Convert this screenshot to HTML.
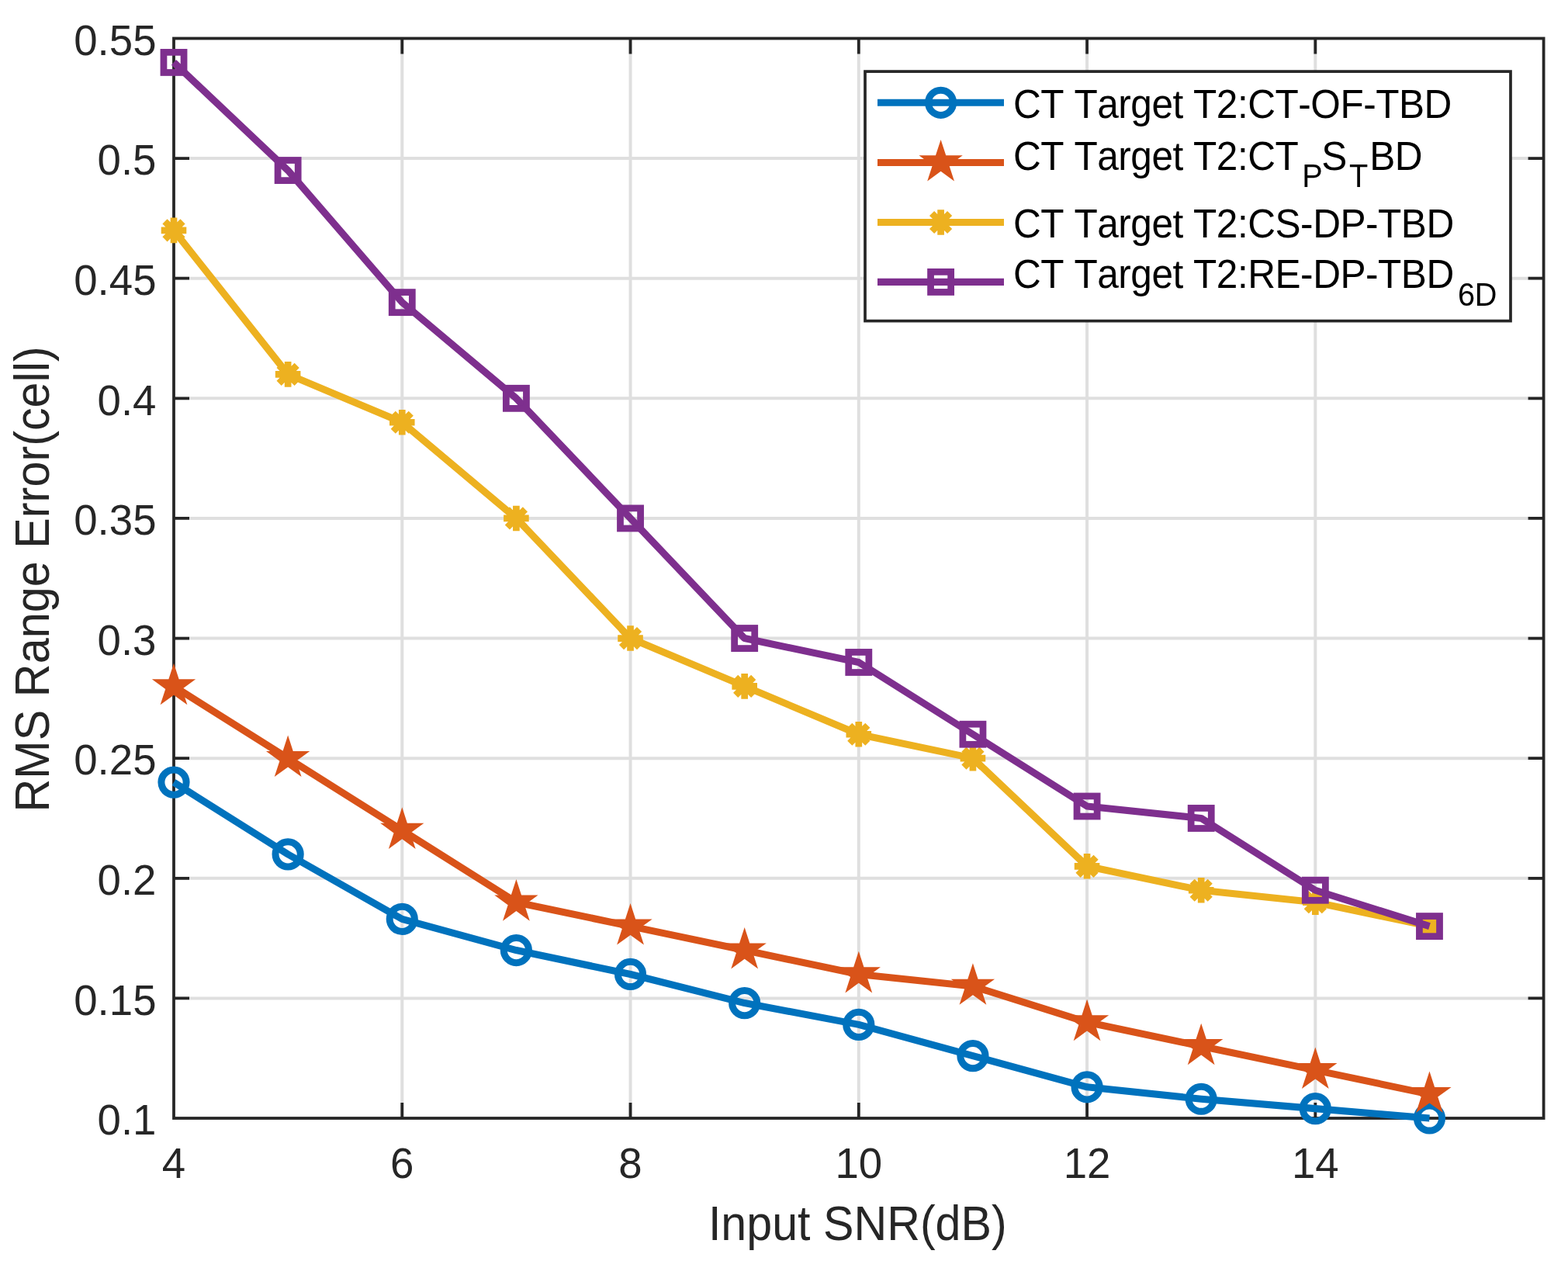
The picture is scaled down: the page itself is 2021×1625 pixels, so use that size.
<!DOCTYPE html>
<html><head><meta charset="utf-8"><title>RMS Range Error</title>
<style>html,body{margin:0;padding:0;background:#fff;overflow:hidden;}svg{display:block;}text{font-kerning:none;}</style></head>
<body>
<svg width="2021" height="1625" viewBox="0 0 2021 1625">
<rect width="2021" height="1625" fill="#ffffff"/>
<path d="M518.27 49.5V1441M812.53 49.5V1441M1106.8 49.5V1441M1401.07 49.5V1441M1695.33 49.5V1441M224 1286.39H1989.6M224 1131.78H1989.6M224 977.17H1989.6M224 822.56H1989.6M224 667.94H1989.6M224 513.33H1989.6M224 358.72H1989.6M224 204.11H1989.6" stroke="#dfdfdf" stroke-width="4.0" fill="none"/>
<path d="M518.27 1441v-20M518.27 49.5v20M812.53 1441v-20M812.53 49.5v20M1106.8 1441v-20M1106.8 49.5v20M1401.07 1441v-20M1401.07 49.5v20M1695.33 1441v-20M1695.33 49.5v20M224 1286.39h20M1989.6 1286.39h-20M224 1131.78h20M1989.6 1131.78h-20M224 977.17h20M1989.6 977.17h-20M224 822.56h20M1989.6 822.56h-20M224 667.94h20M1989.6 667.94h-20M224 513.33h20M1989.6 513.33h-20M224 358.72h20M1989.6 358.72h-20M224 204.11h20M1989.6 204.11h-20" stroke="#262626" stroke-width="3.8" fill="none"/>
<rect x="224" y="49.5" width="1765.6" height="1391.5" stroke="#262626" stroke-width="3.8" fill="none"/>
<g font-family="'Liberation Sans', Arial, Helvetica, sans-serif" font-size="54.6" fill="#262626"><text x="201.5" y="1462.3" text-anchor="end">0.1</text><text x="201.5" y="1307.69" text-anchor="end">0.15</text><text x="201.5" y="1153.08" text-anchor="end">0.2</text><text x="201.5" y="998.47" text-anchor="end">0.25</text><text x="201.5" y="843.86" text-anchor="end">0.3</text><text x="201.5" y="689.24" text-anchor="end">0.35</text><text x="201.5" y="534.63" text-anchor="end">0.4</text><text x="201.5" y="380.02" text-anchor="end">0.45</text><text x="201.5" y="225.41" text-anchor="end">0.5</text><text x="201.5" y="70.8" text-anchor="end">0.55</text><text x="224" y="1517.6" text-anchor="middle">4</text><text x="518.27" y="1517.6" text-anchor="middle">6</text><text x="812.53" y="1517.6" text-anchor="middle">8</text><text x="1106.8" y="1517.6" text-anchor="middle">10</text><text x="1401.07" y="1517.6" text-anchor="middle">12</text><text x="1695.33" y="1517.6" text-anchor="middle">14</text></g>
<text transform="translate(1105.3 1598.2) scale(0.95 1)" text-anchor="middle" font-family="'Liberation Sans', Arial, Helvetica, sans-serif" font-size="62.3" fill="#262626">Input SNR(dB)</text>
<text transform="translate(62.9 746.4) rotate(-90) scale(0.953 1)" text-anchor="middle" font-family="'Liberation Sans', Arial, Helvetica, sans-serif" font-size="62.3" fill="#262626">RMS Range Error(cell)</text>
<polyline points="224,1008.09 371.13,1100.86 518.27,1184.35 665.4,1224.54 812.53,1255.47 959.67,1292.57 1106.8,1320.4 1253.93,1360.6 1401.07,1400.8 1548.2,1416.26 1695.33,1428.63 1842.47,1441" fill="none" stroke="#0072BD" stroke-width="9.1" stroke-linejoin="round"/>
<circle cx="224" cy="1008.09" r="16.1" fill="none" stroke="#0072BD" stroke-width="9"/><circle cx="371.13" cy="1100.86" r="16.1" fill="none" stroke="#0072BD" stroke-width="9"/><circle cx="518.27" cy="1184.35" r="16.1" fill="none" stroke="#0072BD" stroke-width="9"/><circle cx="665.4" cy="1224.54" r="16.1" fill="none" stroke="#0072BD" stroke-width="9"/><circle cx="812.53" cy="1255.47" r="16.1" fill="none" stroke="#0072BD" stroke-width="9"/><circle cx="959.67" cy="1292.57" r="16.1" fill="none" stroke="#0072BD" stroke-width="9"/><circle cx="1106.8" cy="1320.4" r="16.1" fill="none" stroke="#0072BD" stroke-width="9"/><circle cx="1253.93" cy="1360.6" r="16.1" fill="none" stroke="#0072BD" stroke-width="9"/><circle cx="1401.07" cy="1400.8" r="16.1" fill="none" stroke="#0072BD" stroke-width="9"/><circle cx="1548.2" cy="1416.26" r="16.1" fill="none" stroke="#0072BD" stroke-width="9"/><circle cx="1695.33" cy="1428.63" r="16.1" fill="none" stroke="#0072BD" stroke-width="9"/><circle cx="1842.47" cy="1441" r="16.1" fill="none" stroke="#0072BD" stroke-width="9"/>
<polyline points="224,884.4 371.13,977.17 518.27,1069.93 665.4,1162.7 812.53,1193.62 959.67,1224.54 1106.8,1255.47 1253.93,1270.93 1401.07,1317.31 1548.2,1348.23 1695.33,1379.16 1842.47,1410.08" fill="none" stroke="#D95319" stroke-width="9.1" stroke-linejoin="round"/>
<polygon points="224,854.8 230.65,875.25 252.15,875.25 234.75,887.89 241.4,908.35 224,895.71 206.6,908.35 213.25,887.89 195.85,875.25 217.35,875.25" fill="#D95319"/><polygon points="371.13,947.57 377.78,968.02 399.28,968.02 381.89,980.66 388.53,1001.11 371.13,988.47 353.73,1001.11 360.38,980.66 342.98,968.02 364.49,968.02" fill="#D95319"/><polygon points="518.27,1040.33 524.91,1060.79 546.42,1060.79 529.02,1073.43 535.67,1093.88 518.27,1081.24 500.87,1093.88 507.51,1073.43 490.12,1060.79 511.62,1060.79" fill="#D95319"/><polygon points="665.4,1133.1 672.05,1153.55 693.55,1153.55 676.15,1166.19 682.8,1186.65 665.4,1174.01 648,1186.65 654.65,1166.19 637.25,1153.55 658.75,1153.55" fill="#D95319"/><polygon points="812.53,1164.02 819.18,1184.48 840.68,1184.48 823.29,1197.12 829.93,1217.57 812.53,1204.93 795.13,1217.57 801.78,1197.12 784.38,1184.48 805.89,1184.48" fill="#D95319"/><polygon points="959.67,1194.94 966.31,1215.4 987.82,1215.4 970.42,1228.04 977.07,1248.49 959.67,1235.85 942.27,1248.49 948.91,1228.04 931.52,1215.4 953.02,1215.4" fill="#D95319"/><polygon points="1106.8,1225.87 1113.45,1246.32 1134.95,1246.32 1117.55,1258.96 1124.2,1279.41 1106.8,1266.77 1089.4,1279.41 1096.05,1258.96 1078.65,1246.32 1100.15,1246.32" fill="#D95319"/><polygon points="1253.93,1241.33 1260.58,1261.78 1282.08,1261.78 1264.69,1274.42 1271.33,1294.87 1253.93,1282.23 1236.53,1294.87 1243.18,1274.42 1225.78,1261.78 1247.29,1261.78" fill="#D95319"/><polygon points="1401.07,1287.71 1407.71,1308.16 1429.22,1308.16 1411.82,1320.8 1418.47,1341.26 1401.07,1328.62 1383.67,1341.26 1390.31,1320.8 1372.92,1308.16 1394.42,1308.16" fill="#D95319"/><polygon points="1548.2,1318.63 1554.85,1339.09 1576.35,1339.09 1558.95,1351.73 1565.6,1372.18 1548.2,1359.54 1530.8,1372.18 1537.45,1351.73 1520.05,1339.09 1541.55,1339.09" fill="#D95319"/><polygon points="1695.33,1349.56 1701.98,1370.01 1723.48,1370.01 1706.09,1382.65 1712.73,1403.1 1695.33,1390.46 1677.93,1403.1 1684.58,1382.65 1667.18,1370.01 1688.69,1370.01" fill="#D95319"/><polygon points="1842.47,1380.48 1849.11,1400.93 1870.62,1400.93 1853.22,1413.57 1859.87,1434.02 1842.47,1421.38 1825.07,1434.02 1831.71,1413.57 1814.32,1400.93 1835.82,1400.93" fill="#D95319"/>
<polyline points="224,296.88 371.13,482.41 518.27,544.26 665.4,667.94 812.53,822.56 959.67,884.4 1106.8,946.24 1253.93,977.17 1401.07,1116.32 1548.2,1147.24 1695.33,1162.7 1842.47,1193.62" fill="none" stroke="#EDB120" stroke-width="9.1" stroke-linejoin="round"/>
<path d="M224 280.58V313.18M207.7 296.88H240.3M212.47 285.35L235.53 308.4M212.47 308.4L235.53 285.35" stroke="#EDB120" stroke-width="8.7" fill="none"/><path d="M371.13 466.11V498.71M354.83 482.41H387.43M359.61 470.89L382.66 493.94M359.61 493.94L382.66 470.89" stroke="#EDB120" stroke-width="8.7" fill="none"/><path d="M518.27 527.96V560.56M501.97 544.26H534.57M506.74 532.73L529.79 555.78M506.74 555.78L529.79 532.73" stroke="#EDB120" stroke-width="8.7" fill="none"/><path d="M665.4 651.64V684.24M649.1 667.94H681.7M653.87 656.42L676.93 679.47M653.87 679.47L676.93 656.42" stroke="#EDB120" stroke-width="8.7" fill="none"/><path d="M812.53 806.26V838.86M796.23 822.56H828.83M801.01 811.03L824.06 834.08M801.01 834.08L824.06 811.03" stroke="#EDB120" stroke-width="8.7" fill="none"/><path d="M959.67 868.1V900.7M943.37 884.4H975.97M948.14 872.87L971.19 895.93M948.14 895.93L971.19 872.87" stroke="#EDB120" stroke-width="8.7" fill="none"/><path d="M1106.8 929.94V962.54M1090.5 946.24H1123.1M1095.27 934.72L1118.33 957.77M1095.27 957.77L1118.33 934.72" stroke="#EDB120" stroke-width="8.7" fill="none"/><path d="M1253.93 960.87V993.47M1237.63 977.17H1270.23M1242.41 965.64L1265.46 988.69M1242.41 988.69L1265.46 965.64" stroke="#EDB120" stroke-width="8.7" fill="none"/><path d="M1401.07 1100.02V1132.62M1384.77 1116.32H1417.37M1389.54 1104.79L1412.59 1127.84M1389.54 1127.84L1412.59 1104.79" stroke="#EDB120" stroke-width="8.7" fill="none"/><path d="M1548.2 1130.94V1163.54M1531.9 1147.24H1564.5M1536.67 1135.71L1559.73 1158.76M1536.67 1158.76L1559.73 1135.71" stroke="#EDB120" stroke-width="8.7" fill="none"/><path d="M1695.33 1146.4V1179M1679.03 1162.7H1711.63M1683.81 1151.17L1706.86 1174.23M1683.81 1174.23L1706.86 1151.17" stroke="#EDB120" stroke-width="8.7" fill="none"/><path d="M1842.47 1177.32V1209.92M1826.17 1193.62H1858.77M1830.94 1182.1L1853.99 1205.15M1830.94 1205.15L1853.99 1182.1" stroke="#EDB120" stroke-width="8.7" fill="none"/>
<polyline points="224,80.42 371.13,219.57 518.27,389.64 665.4,513.33 812.53,667.94 959.67,822.56 1106.8,853.48 1253.93,946.24 1401.07,1039.01 1548.2,1054.47 1695.33,1147.24 1842.47,1193.62" fill="none" stroke="#7E2F8E" stroke-width="9.1" stroke-linejoin="round"/>
<rect x="210.95" y="67.37" width="26.1" height="26.1" fill="none" stroke="#7E2F8E" stroke-width="8.75"/><rect x="358.08" y="206.52" width="26.1" height="26.1" fill="none" stroke="#7E2F8E" stroke-width="8.75"/><rect x="505.22" y="376.59" width="26.1" height="26.1" fill="none" stroke="#7E2F8E" stroke-width="8.75"/><rect x="652.35" y="500.28" width="26.1" height="26.1" fill="none" stroke="#7E2F8E" stroke-width="8.75"/><rect x="799.48" y="654.89" width="26.1" height="26.1" fill="none" stroke="#7E2F8E" stroke-width="8.75"/><rect x="946.62" y="809.51" width="26.1" height="26.1" fill="none" stroke="#7E2F8E" stroke-width="8.75"/><rect x="1093.75" y="840.43" width="26.1" height="26.1" fill="none" stroke="#7E2F8E" stroke-width="8.75"/><rect x="1240.88" y="933.19" width="26.1" height="26.1" fill="none" stroke="#7E2F8E" stroke-width="8.75"/><rect x="1388.02" y="1025.96" width="26.1" height="26.1" fill="none" stroke="#7E2F8E" stroke-width="8.75"/><rect x="1535.15" y="1041.42" width="26.1" height="26.1" fill="none" stroke="#7E2F8E" stroke-width="8.75"/><rect x="1682.28" y="1134.19" width="26.1" height="26.1" fill="none" stroke="#7E2F8E" stroke-width="8.75"/><rect x="1829.42" y="1180.57" width="26.1" height="26.1" fill="none" stroke="#7E2F8E" stroke-width="8.75"/>
<rect x="1115" y="92.1" width="832" height="321.5" fill="#ffffff" stroke="#262626" stroke-width="3.7"/>
<path d="M1131 132.3H1294" stroke="#0072BD" stroke-width="9.1"/>
<circle cx="1212.6" cy="132.3" r="16.1" fill="none" stroke="#0072BD" stroke-width="9"/>
<path d="M1131 209.5H1294" stroke="#D95319" stroke-width="9.1"/>
<polygon points="1212.6,179.9 1219.25,200.35 1240.75,200.35 1223.35,212.99 1230,233.45 1212.6,220.81 1195.2,233.45 1201.85,212.99 1184.45,200.35 1205.95,200.35" fill="#D95319"/>
<path d="M1131 286.5H1294" stroke="#EDB120" stroke-width="9.1"/>
<path d="M1212.6 270.2V302.8M1196.3 286.5H1228.9M1201.07 274.97L1224.13 298.03M1201.07 298.03L1224.13 274.97" stroke="#EDB120" stroke-width="8.7" fill="none"/>
<path d="M1131 363.4H1294" stroke="#7E2F8E" stroke-width="9.1"/>
<rect x="1199.55" y="350.35" width="26.1" height="26.1" fill="none" stroke="#7E2F8E" stroke-width="8.75"/>
<g font-family="'Liberation Sans', Arial, Helvetica, sans-serif" font-size="52.2" fill="#000000" letter-spacing="-0.52">
<text transform="translate(1306.05 152.2) scale(0.95 1)">CT Target T2:CT-OF-TBD</text>
<text transform="translate(1306.05 218.9) scale(0.95 1)">CT Target T2:CT<tspan font-size="41.8" x="391.68" y="22">P</tspan><tspan x="418.11" y="0">S</tspan><tspan font-size="41.8" x="455.79" y="22">T</tspan><tspan x="483.32" y="0">BD</tspan></text>
<text transform="translate(1306.05 306.2) scale(0.95 1)">CT Target T2:CS-DP-TBD</text>
<text transform="translate(1306.05 371.0) scale(0.95 1)">CT Target T2:RE-DP-TBD<tspan font-size="41.8" x="603.21" y="23">6D</tspan></text>
</g>
</svg>
</body></html>
